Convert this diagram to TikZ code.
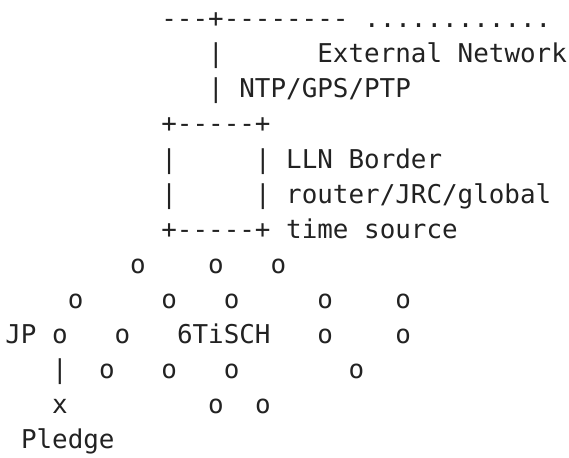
\documentclass[tikz,border=0pt]{standalone}
\usepackage{fontspec}
\setmonofont{DejaVu Sans Mono}
\definecolor{ink}{RGB}{34,34,34}
\newcommand\tk[4]{\node[tok] (#1) at ({5.4+15.6*#2},{27.7+35.1*#3}) {#4};}
\begin{document}
\begin{tikzpicture}[x=1pt,y=-1pt,
  tok/.style={inner sep=0pt, outer sep=0pt, anchor=base west,
    font=\ttfamily\fontsize{25.9pt}{31pt}\selectfont, text=ink}]
\useasboundingbox (0,0) rectangle (569,457);
% row 0
\tk{extline}{10}{0}{---+--------}
\tk{extdots}{23}{0}{............}
% row 1
\tk{bar1}{13}{1}{|}
\tk{extnet}{20}{1}{External Network}
% row 2
\tk{bar2}{13}{2}{|}
\tk{ntp}{15}{2}{NTP/GPS/PTP}
% rows 3-6: border router box
\tk{boxtop}{10}{3}{+-----+}
\tk{boxl1}{10}{4}{|}
\tk{boxr1}{16}{4}{|}
\tk{lbl1}{18}{4}{LLN Border}
\tk{boxl2}{10}{5}{|}
\tk{boxr2}{16}{5}{|}
\tk{lbl2}{18}{5}{router/JRC/global}
\tk{boxbot}{10}{6}{+-----+}
\tk{lbl3}{18}{6}{time source}
% row 7
\tk{n71}{8}{7}{o}
\tk{n72}{13}{7}{o}
\tk{n73}{17}{7}{o}
% row 8
\tk{n81}{4}{8}{o}
\tk{n82}{10}{8}{o}
\tk{n83}{14}{8}{o}
\tk{n84}{20}{8}{o}
\tk{n85}{25}{8}{o}
% row 9
\tk{jp}{0}{9}{JP}
\tk{n91}{3}{9}{o}
\tk{n92}{7}{9}{o}
\tk{tisch}{11}{9}{6TiSCH}
\tk{n93}{20}{9}{o}
\tk{n94}{25}{9}{o}
% row 10
\tk{pbar}{3}{10}{|}
\tk{n101}{6}{10}{o}
\tk{n102}{10}{10}{o}
\tk{n103}{14}{10}{o}
\tk{n104}{22}{10}{o}
% row 11
\tk{px}{3}{11}{x}
\tk{n111}{13}{11}{o}
\tk{n112}{16}{11}{o}
% row 12
\tk{pledge}{1}{12}{Pledge}
\end{tikzpicture}
\end{document}
